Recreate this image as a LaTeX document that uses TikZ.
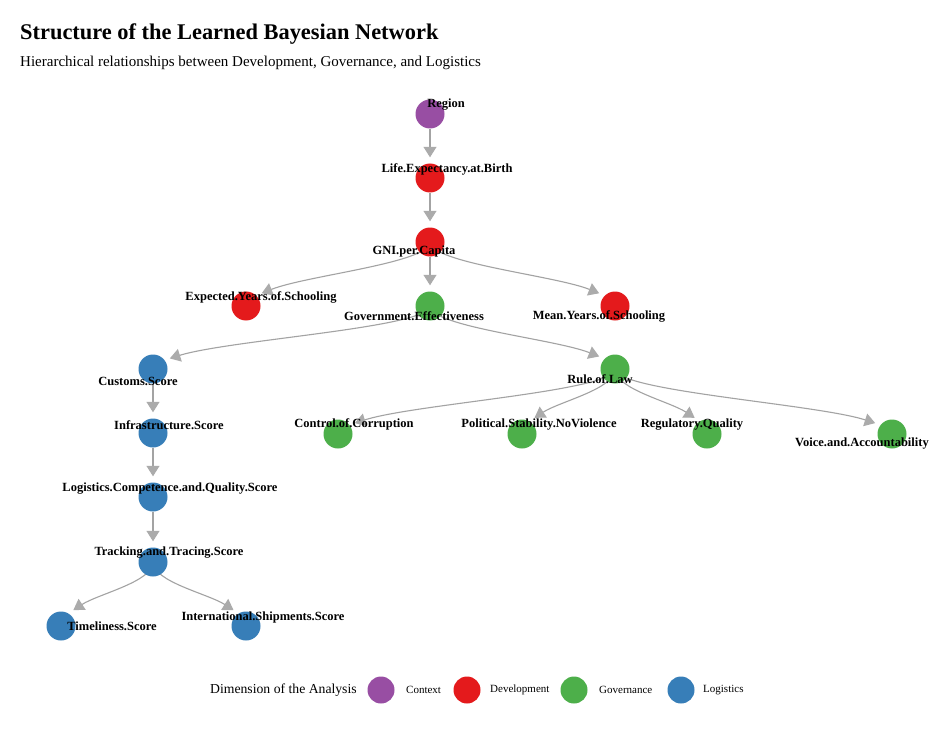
\documentclass[tikz,border=0pt]{standalone}
\usepackage{fontspec}
\setmainfont{Liberation Serif}
\usetikzlibrary{arrows.meta,calc,backgrounds}
\definecolor{ctx}{HTML}{984EA3}
\definecolor{dev}{HTML}{E41A1C}
\definecolor{gov}{HTML}{4DAF4A}
\definecolor{logi}{HTML}{377EB8}
\definecolor{edgegray}{HTML}{A3A3A3}
\definecolor{tipgray}{HTML}{ABABAB}
\tikzset{
  vnode/.style={circle,minimum size=29pt,inner sep=0pt},
  ctxnode/.style={vnode,fill=ctx},
  devnode/.style={vnode,fill=dev},
  govnode/.style={vnode,fill=gov},
  lognode/.style={vnode,fill=logi},
  lab/.style={font=\fontsize{12.5}{13}\selectfont\bfseries,inner sep=0pt},
  cedge/.style={draw=edgegray,line width=1.1pt,
    -{Triangle[length=10.5pt 0,width=13pt 0,color=tipgray,fill=tipgray]}},
  edge/.style={cedge,shorten >=6pt},
  legc/.style={circle,minimum size=27pt,inner sep=0pt},
  legt/.style={font=\fontsize{11}{12}\selectfont,inner sep=0pt,anchor=west}
}
% vertical cubic edge, cut at parameter #4 before the target:
% #1 source node, #2 source coordinate, #3 target coordinate, #4 end parameter, #5 id
\newcommand{\bnedge}[5]{%
  \path let \p1=(#2), \p2=(#3) in
    coordinate (#5c1) at (\x1,{\y1+0.4*(\y2-\y1)})
    coordinate (#5c2) at (\x2,{\y2-0.4*(\y2-\y1)});
  \coordinate (#5q1) at ($(#2)!#4!(#5c1)$);
  \coordinate (#5m) at ($(#5c1)!#4!(#5c2)$);
  \coordinate (#5r) at ($(#5c2)!#4!(#3)$);
  \coordinate (#5q2) at ($(#5q1)!#4!(#5m)$);
  \coordinate (#5m2) at ($(#5m)!#4!(#5r)$);
  \coordinate (#5q3) at ($(#5q2)!#4!(#5m2)$);
  \draw[cedge] (#1.center) .. controls (#5q1) and (#5q2) .. (#5q3);}
\begin{document}
\begin{tikzpicture}[x=1pt,y=-1pt]
\useasboundingbox (0,0) rectangle (950,730);
\begin{scope}[on background layer]
\fill[white] (0,0) rectangle (950,730);
\end{scope}
% title
\node[anchor=base west,inner sep=0pt,font=\fontsize{22.4}{24}\selectfont\bfseries] (title) at (20,40) {Structure of the Learned Bayesian Network};
\node[anchor=base west,inner sep=0pt,font=\fontsize{15}{16}\selectfont] (subtitle) at (20,67) {Hierarchical relationships between Development, Governance, and Logistics};
% node positions
\coordinate (pregion) at (430,114);
\coordinate (plife) at (430,178);
\coordinate (pgni) at (430,242);
\coordinate (pexpy) at (246,306);
\coordinate (pgoveff) at (430,306);
\coordinate (pmeany) at (615,306);
\coordinate (pcustoms) at (153,369);
\coordinate (prule) at (615,369);
\coordinate (pinfra) at (153,433);
\coordinate (pcorr) at (338,434);
\coordinate (ppolstab) at (522,434);
\coordinate (pregq) at (707,434);
\coordinate (pvoice) at (892,434);
\coordinate (plcomp) at (153,497);
\coordinate (ptrack) at (153,562);
\coordinate (ptimel) at (61,626);
\coordinate (pintl) at (246,626);
% nodes
\node[ctxnode] (region) at (pregion) {};
\node[devnode] (life) at (plife) {};
\node[devnode] (gni) at (pgni) {};
\node[devnode] (expy) at (pexpy) {};
\node[govnode] (goveff) at (pgoveff) {};
\node[devnode] (meany) at (pmeany) {};
\node[lognode] (customs) at (pcustoms) {};
\node[govnode] (rule) at (prule) {};
\node[lognode] (infra) at (pinfra) {};
\node[govnode] (corr) at (pcorr) {};
\node[govnode] (polstab) at (ppolstab) {};
\node[govnode] (regq) at (pregq) {};
\node[govnode] (voice) at (pvoice) {};
\node[lognode] (lcomp) at (plcomp) {};
\node[lognode] (track) at (ptrack) {};
\node[lognode] (timel) at (ptimel) {};
\node[lognode] (intl) at (pintl) {};
% edges (behind the circles)
\begin{scope}[on background layer]
\draw[edge] (region) -- (life);
\draw[edge] (life) -- (gni);
\draw[edge] (gni) -- (goveff);
\bnedge{gni}{pgni}{pexpy}{0.82}{ea}
\bnedge{gni}{pgni}{pmeany}{0.82}{eb}
\bnedge{goveff}{pgoveff}{pcustoms}{0.85}{ec}
\bnedge{goveff}{pgoveff}{prule}{0.82}{ed}
\draw[edge] (customs) -- (infra);
\draw[edge] (infra) -- (lcomp);
\draw[edge] (lcomp) -- (track);
\bnedge{track}{ptrack}{ptimel}{0.77}{ee}
\bnedge{track}{ptrack}{pintl}{0.77}{ef}
\bnedge{rule}{prule}{pcorr}{0.85}{eg}
\bnedge{rule}{prule}{ppolstab}{0.77}{eh}
\bnedge{rule}{prule}{pregq}{0.77}{ei}
\bnedge{rule}{prule}{pvoice}{0.85}{ej}
\end{scope}
% labels
\node[lab] (lregion) at (446,105) {Region};
\node[lab] (llife) at (447,169) {Life.Expectancy.at.Birth};
\node[lab] (lgni) at (414,251) {GNI.per.Capita};
\node[lab] (lexpy) at (261,297) {Expected.Years.of.Schooling};
\node[lab] (lgoveff) at (414,316) {Government.Effectiveness};
\node[lab] (lmeany) at (599,316) {Mean.Years.of.Schooling};
\node[lab] (lcustoms) at (138,381) {Customs.Score};
\node[lab] (lrule) at (600,379) {Rule.of.Law};
\node[lab] (linfra) at (169,425) {Infrastructure.Score};
\node[lab] (lcorr) at (354,424) {Control.of.Corruption};
\node[lab] (lpolstab) at (539,425) {Political.Stability.NoViolence};
\node[lab] (lregq) at (692,425) {Regulatory.Quality};
\node[lab] (lvoice) at (862,444) {Voice.and.Accountability};
\node[lab] (llcomp) at (170,489) {Logistics.Competence.and.Quality.Score};
\node[lab] (ltrack) at (169,553) {Tracking.and.Tracing.Score};
\node[lab] (ltimel) at (112,626) {Timeliness.Score};
\node[lab] (lintl) at (263,617) {International.Shipments.Score};
% legend
\node[anchor=west,inner sep=0pt,font=\fontsize{13.7}{14}\selectfont] (legtitle) at (210,690) {Dimension of the Analysis};
\node[legc,fill=ctx] (lc1) at (381,690) {};
\node[legt] (lt1) at (406,690) {Context};
\node[legc,fill=dev] (lc2) at (467,690) {};
\node[legt] (lt2) at (490,690) {Development};
\node[legc,fill=gov] (lc3) at (574,690) {};
\node[legt] (lt3) at (599,690) {Governance};
\node[legc,fill=logi] (lc4) at (681,690) {};
\node[legt] (lt4) at (703,690) {Logistics};
\end{tikzpicture}
\end{document}
